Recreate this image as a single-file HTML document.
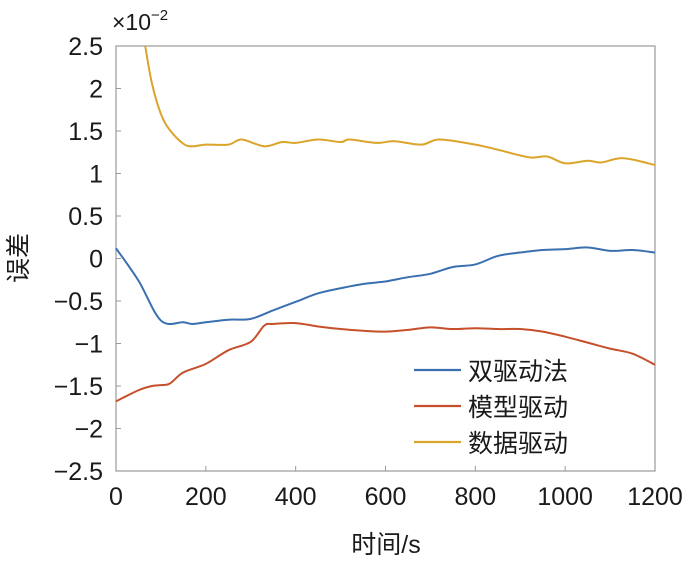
<!DOCTYPE html>
<html><head><meta charset="utf-8"><style>
body{margin:0;background:#fff;}
svg text{font-family:"Liberation Sans","Noto Sans CJK SC",sans-serif;fill:#1a1a1a;}
</style></head><body>
<svg id="chart" width="700" height="559" viewBox="0 0 700 559" xmlns="http://www.w3.org/2000/svg">
<g id="axes"></g><g id="series"></g><g id="legend"></g>
</svg>
<script>
const xTicks=[0,200,400,600,800,1000,1200];
const yTicks=[2.5,2,1.5,1,0.5,0,-0.5,-1,-1.5,-2,-2.5];
const yTickLabels=["2.5","2","1.5","1","0.5","0","−0.5","−1","−1.5","−2","−2.5"];
const seriesNames=["双驱动法","模型驱动","数据驱动"];
const seriesColors=["#3a6fb0","#c5502a","#dba42a"];
const blueX=[0,50,100,150,170,200,250,300,350,400,450,500,550,600,650,700,750,800,850,900,950,1000,1050,1100,1150,1200];
const blueY=[0.12,-0.26,-0.73,-0.75,-0.77,-0.75,-0.72,-0.71,-0.61,-0.51,-0.41,-0.35,-0.30,-0.27,-0.22,-0.18,-0.10,-0.07,0.03,0.07,0.10,0.11,0.13,0.09,0.10,0.07];
const redX=[0,50,80,100,120,150,200,250,300,330,350,400,450,500,550,600,650,700,750,800,850,900,950,1000,1050,1100,1150,1200];
const redY=[-1.68,-1.55,-1.50,-1.49,-1.47,-1.34,-1.24,-1.08,-0.98,-0.79,-0.77,-0.76,-0.80,-0.83,-0.85,-0.86,-0.84,-0.81,-0.83,-0.82,-0.83,-0.83,-0.86,-0.92,-0.99,-1.06,-1.12,-1.25];
const yelX=[65,80,100,120,150,170,200,250,280,330,370,400,450,500,520,580,620,680,720,800,850,920,960,1000,1050,1080,1130,1200];
const yelY=[2.5,2.06,1.70,1.51,1.35,1.32,1.34,1.34,1.40,1.32,1.37,1.36,1.40,1.37,1.40,1.36,1.38,1.34,1.40,1.34,1.28,1.19,1.20,1.12,1.15,1.13,1.18,1.10];

const L=116,R=655,T=46,B=471;
const sx=v=>L+(v-0)/1200*(R-L);
const sy=v=>T+(2.5-v)/5*(B-T);
const NS="http://www.w3.org/2000/svg";
function mk(tag,attrs,parent,text){const e=document.createElementNS(NS,tag);for(const k in attrs)e.setAttribute(k,attrs[k]);if(text!==undefined)e.textContent=text;parent.appendChild(e);return e;}
const axes=document.getElementById('axes');
const frame=mk('rect',{x:L,y:T,width:R-L,height:B-T,fill:'none',stroke:'#999','stroke-width':1.2},axes);


xTicks.forEach(t=>{
 const ln=mk('line',{x1:sx(t),x2:sx(t),y1:B,y2:B-5,stroke:'#999'},axes);
 
 
 const tx=mk('text',{x:sx(t),y:505,'text-anchor':'middle','font-size':25},axes,String(t));
 
 
});
yTicks.forEach((t,i)=>{
 const ln=mk('line',{x1:L,x2:L+5,y1:sy(t),y2:sy(t),stroke:'#999'},axes);
 
 
 const tx=mk('text',{x:103,y:sy(t)+9,'text-anchor':'end','font-size':25},axes,yTickLabels[i]);
 
 
});
const ex=mk('text',{x:112,y:30,'font-size':23},axes);


ex.innerHTML='×10<tspan dy="-10" font-size="15">−2</tspan>';
const xt=mk('text',{x:386,y:553,'text-anchor':'middle','font-size':25},axes,'时间/s');


const yt=mk('text',{x:0,y:0,'text-anchor':'middle','font-size':25,transform:'translate(27,258) rotate(-90)'},axes,'误差');



function pathD(xs,ys){
 const p=xs.map((x,i)=>[sx(x),sy(ys[i])]);
 let d='M'+p[0][0]+','+p[0][1];
 for(let i=0;i<p.length-1;i++){
  const p0=p[i-1]||p[i],p1=p[i],p2=p[i+1],p3=p[i+2]||p2;
  const c1=[p1[0]+(p2[0]-p0[0])/6,p1[1]+(p2[1]-p0[1])/6];
  const c2=[p2[0]-(p3[0]-p1[0])/6,p2[1]-(p3[1]-p1[1])/6];
  d+=`C${c1[0]},${c1[1]} ${c2[0]},${c2[1]} ${p2[0]},${p2[1]}`;
 }
 return d;
}
const ser=document.getElementById('series');
const data=[[blueX,blueY],[redX,redY],[yelX,yelY]];
const names=['series-dual-drive','series-model-drive','series-data-drive'];
data.forEach((d,i)=>{
 const p=mk('path',{d:pathD(d[0],d[1]),fill:'none',stroke:seriesColors[i],'stroke-width':2},ser);
 
 
});
const leg=document.getElementById('legend');
seriesNames.forEach((n,i)=>{
 const y=370+i*36;
 const g=mk('g',{},leg);
 
 
 mk('line',{x1:414,x2:461,y1:y,y2:y,stroke:seriesColors[i],'stroke-width':2.2},g);
 mk('text',{x:468,y:y+10,'font-size':25},g,n);
});
</script>
</body></html>
